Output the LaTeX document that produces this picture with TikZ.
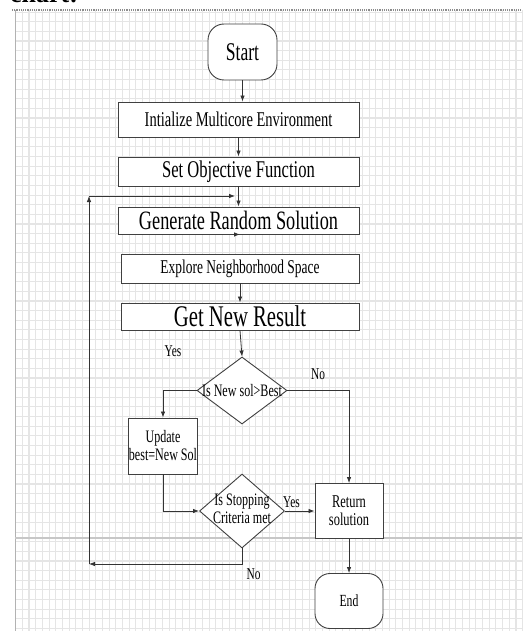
\documentclass[tikz,border=0pt]{standalone}
\usepackage{fontspec}
\setmainfont[FakeStretch=0.69]{Liberation Serif}
\newfontfamily\headfont{Liberation Serif}
\usetikzlibrary{positioning,shapes.geometric,arrows.meta}

\tikzset{
  process/.style={draw=black!75, line width=0.9pt, fill=white, minimum width=241pt, inner sep=0pt},
  terminal/.style={draw=black!75, line width=0.9pt, fill=white, rounded corners=16pt, minimum width=69pt, minimum height=56pt, inner sep=0pt},
  decision/.style={diamond, draw=black!75, line width=0.9pt, fill=white, inner sep=0pt},
  smallbox/.style={draw=black!75, line width=0.9pt, fill=white, minimum width=68pt, minimum height=56pt, inner sep=0pt, align=center},
  gridline/.style={black!10, line width=1.1pt},
  flow/.style={->, draw=black!80, line width=0.8pt},
  answer/.style={font=\fontsize{16.5}{18}\selectfont},
}

\begin{document}
\begin{tikzpicture}[x=1pt, y=-1pt, >={Latex[length=6pt,width=4.5pt]}, node distance=50pt, on grid]
   \useasboundingbox (0,0) rectangle (522,631);
   \fill[white] (0,0) rectangle (522,631);
   % background grid
   \foreach \gx in {0,...,76}
     \draw[gridline] ({15.7+6.67*\gx},10) -- ({15.7+6.67*\gx},631);
   \foreach \gy in {0,...,64}
     \draw[gridline] (15,{12.1+9.63*\gy}) -- (522,{12.1+9.63*\gy});
   \draw[black!30, line width=1pt] (15,10) -- (15,631);
   \draw[black!45, densely dotted, line width=1.2pt] (12,10) -- (522,10);
   \draw[black!22, line width=2pt] (15,538) -- (522,538);
   \begin{scope}
     \clip (0,0) rectangle (522,631);
     \node[anchor=base west, inner sep=0pt, font=\headfont\bfseries\fontsize{26}{28}\selectfont] (heading) at (10,2.5) {chart:};
   \end{scope}

   \node[terminal, font=\fontsize{25.5}{28}\selectfont] (start) at (242.5,52) {Start};
   \node[process, minimum height=35pt, font=\fontsize{21}{24}\selectfont] (init) [below left=67.5pt and 4pt of start] {Intialize Multicore Environment};
   \node[process, minimum height=29pt, font=\fontsize{24}{26}\selectfont] (setobj) [below=52pt of init] {Set Objective Function};
   \node[process, minimum height=27pt, font=\fontsize{26.5}{28}\selectfont] (genrand) [below=49pt of setobj] {Generate Random Solution};
   \node[process, minimum width=238pt, minimum height=29pt, font=\fontsize{19.5}{22}\selectfont] (explore) [below right=48pt and 1.5pt of genrand] {Explore Neighborhood Space};
   \node[process, minimum width=238pt, minimum height=27pt, font=\fontsize{30}{32}\selectfont] (getnew) [below=48pt of explore] {Get New Result};
   \node[decision, minimum width=90pt, minimum height=67pt, font=\fontsize{17.5}{18}\selectfont] (better) [below right=74pt and 2pt of getnew] {\makebox[0pt]{Is New sol>Best}};
   \node[smallbox, font=\fontsize{17.5}{18}\selectfont] (update) [below left=55.5pt and 79pt of better] {Update\\best=New Sol};
   \node[decision, minimum width=85pt, minimum height=74pt, font=\fontsize{17.5}{18}\selectfont] (stopcrit) [below=120.5pt of better] {\makebox[0pt]{\begin{tabular}{@{}c@{}}Is Stopping\\Criteria met\end{tabular}}};
   \node[smallbox, minimum height=55pt, font=\fontsize{18}{18}\selectfont] (retsol) [right=107pt of stopcrit] {Return\\solution};
   \node[terminal, minimum width=68pt, minimum height=55pt, rounded corners=15pt, font=\fontsize{17}{18}\selectfont] (finish) [below=90pt of retsol] {End};

   \node[answer] (yes1) [above left=39.5pt and 69pt of better] {Yes};
   \node[answer] (no1) [above right=16.5pt and 76pt of better] {No};
   \node[answer] (yes2) [above right=9pt and 49.5pt of stopcrit] {Yes};
   \node[answer] (no2) [below right=63pt and 11.5pt of stopcrit] {No};

   \coordinate (loopbot) at (89,564);
   \coordinate (looptop) at (89,196);

   \draw[flow] (start) -- (start |- init.north);
   \draw[flow] (init) -- (setobj);
   \draw[flow] (setobj) -- (genrand);
   \draw[flow] (genrand.south) -- (genrand.south -| explore);
   \draw[flow] (explore) -- (getnew);
   \draw[flow] (getnew.south) -- (better.north);
   \draw[flow] (better.west) -| (update.north);
   \draw[flow] (better.east) -| (retsol.north);
   \draw[flow] (update.south) |- (stopcrit.west);
   \draw[flow] (stopcrit.east) -- (retsol.west);
   \draw[flow] (retsol) -- (finish);
   \draw[flow] (stopcrit.south) |- (loopbot);
   \draw[flow] (loopbot) -- (looptop);
   \draw[flow, shorten >=3.5pt] (looptop) -- (looptop -| genrand.north);
\end{tikzpicture}
\end{document}
